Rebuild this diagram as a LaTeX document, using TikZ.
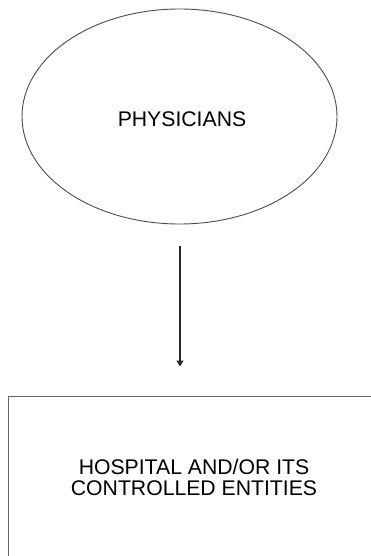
\documentclass[tikz,border=0pt]{standalone}
\usepackage{fontspec}
\setmainfont{Liberation Sans}
\usetikzlibrary{shapes.geometric,arrows.meta}
\begin{document}
\begin{tikzpicture}[x=1pt,y=-1pt,
  lbl/.style={inner sep=0pt,align=center,font=\fontsize{21.2}{21.7}\selectfont,text=black},
  ovalbox/.style={draw=black!70,line width=0.9pt,ellipse,inner sep=0pt,minimum width=315pt,minimum height=215pt},
  squarebox/.style={draw=black!60,line width=1pt,rectangle,inner sep=0pt,minimum width=371.4pt,minimum height=162pt},
  link/.style={draw=black!85,line width=1.3pt,-{Triangle[length=6pt,width=7pt]}}]
\clip (0,0) rectangle (371,556);
\fill[white] (0,0) rectangle (371,556);
\node[ovalbox] (phys) at (179.5,116.5) {};
\node[lbl] (physlbl) at (182,119.7) {PHYSICIANS};
\node[squarebox] (hosp) at (194.2,477) {};
\node[lbl] (hosplbl) at (194,477.5) {HOSPITAL AND/OR ITS\\CONTROLLED ENTITIES};
\draw[link,shorten <=22pt,shorten >=29pt] ([xshift=0.5pt]phys.south) -- ([xshift=0.5pt]phys.south |- hosp.north);
\end{tikzpicture}
\end{document}
